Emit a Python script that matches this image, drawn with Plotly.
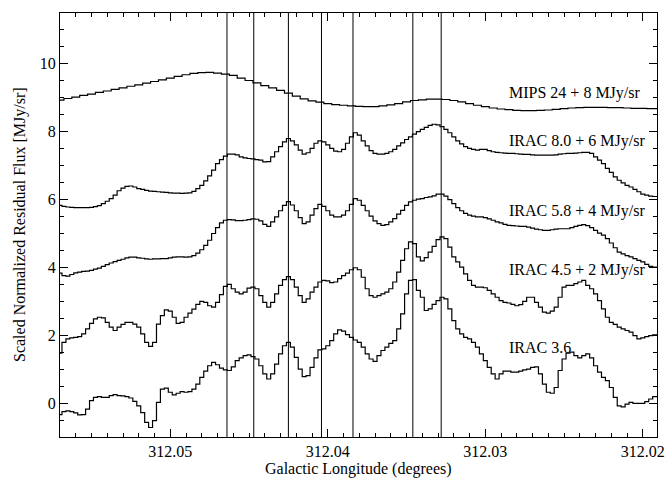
import plotly.graph_objects as go

# ---- data -------------------------------------------------------------
# MIPS 24 um profile sampled in 0.0005 deg bins (left = high longitude)
mips_lon = [round(312.0570 - i * 0.0005, 5) for i in range(77)]
mips24 = [8.93, 8.98, 9.02, 9.07, 9.11, 9.16, 9.20, 9.25, 9.29, 9.34,
          9.38, 9.43, 9.48, 9.53, 9.58, 9.63, 9.68, 9.72, 9.74, 9.75,
          9.73, 9.70, 9.66, 9.58, 9.51, 9.44, 9.36, 9.29, 9.22, 9.14,
          9.05, 8.97, 8.91, 8.87, 8.83, 8.80, 8.78, 8.76, 8.75, 8.74,
          8.74, 8.76, 8.79, 8.83, 8.88, 8.92, 8.94, 8.96, 8.96, 8.95,
          8.92, 8.88, 8.83, 8.78, 8.74, 8.70, 8.67, 8.65, 8.63, 8.62,
          8.62, 8.63, 8.64, 8.66, 8.68, 8.70, 8.71, 8.72, 8.72, 8.72,
          8.71, 8.71, 8.70, 8.69, 8.69, 8.68, 8.68]

# IRAC profiles sampled in 0.00025 deg bins
irac_lon = [round(312.0570 - i * 0.00025, 6) for i in range(153)]

irac80 = [5.83, 5.80, 5.78, 5.77, 5.76, 5.76, 5.76, 5.76, 5.77, 5.79,
          5.82, 5.88, 5.95, 6.03, 6.13, 6.26, 6.34, 6.39, 6.40, 6.37,
          6.32, 6.30, 6.27, 6.25, 6.24, 6.23, 6.22, 6.21, 6.20, 6.19,
          6.19, 6.18, 6.19, 6.20, 6.24, 6.32, 6.42, 6.55, 6.70, 6.87,
          7.06, 7.18, 7.28, 7.34, 7.34, 7.32, 7.26, 7.23, 7.21, 7.20,
          7.18, 7.16, 7.11, 7.12, 7.26, 7.41, 7.56, 7.70, 7.80, 7.73,
          7.61, 7.46, 7.34, 7.38, 7.51, 7.66, 7.73, 7.70, 7.61, 7.51,
          7.43, 7.41, 7.48, 7.66, 7.85, 7.97,
          7.90, 7.73, 7.58, 7.44, 7.36, 7.34, 7.34, 7.36, 7.41, 7.48,
          7.58, 7.67, 7.77, 7.85, 7.93, 8.00, 8.07, 8.13, 8.19, 8.22,
          8.20, 8.15, 8.07, 7.97, 7.85, 7.73, 7.64, 7.56, 7.51, 7.48,
          7.46, 7.48, 7.48, 7.44, 7.41, 7.39, 7.38, 7.37, 7.36, 7.36,
          7.35, 7.34, 7.33, 7.33, 7.32, 7.31, 7.31, 7.31, 7.31, 7.31,
          7.32, 7.34, 7.35, 7.36, 7.36, 7.37, 7.38, 7.39, 7.39, 7.36,
          7.26, 7.16, 7.06, 6.92, 6.80, 6.67, 6.57, 6.49, 6.42, 6.37,
          6.30, 6.23, 6.16, 6.13, 6.10, 6.09, 6.09]

irac58 = [3.83, 3.76, 3.74, 3.79, 3.84, 3.86, 3.88, 3.89, 3.91, 3.95,
          3.98, 4.03, 4.08, 4.13, 4.17, 4.21, 4.24, 4.28, 4.30, 4.30,
          4.28, 4.27, 4.25, 4.24, 4.25, 4.25, 4.26, 4.26, 4.28, 4.30,
          4.31, 4.31, 4.30, 4.31, 4.35, 4.42, 4.52, 4.65, 4.80, 5.00,
          5.17, 5.31, 5.39, 5.41, 5.40, 5.38, 5.38, 5.39, 5.41, 5.43,
          5.42, 5.37, 5.27, 5.21, 5.34, 5.49, 5.67, 5.83, 5.94, 5.84,
          5.67, 5.47, 5.29, 5.34, 5.54, 5.73, 5.86, 5.80, 5.67, 5.54,
          5.49, 5.49, 5.54, 5.67, 5.86, 6.03,
          5.98, 5.83, 5.67, 5.51, 5.37, 5.29, 5.24, 5.26, 5.34, 5.44,
          5.57, 5.68, 5.83, 5.93, 5.98, 6.01, 6.03, 6.06, 6.08, 6.11,
          6.16, 6.16, 6.10, 6.00, 5.88, 5.76, 5.67, 5.59, 5.54, 5.51,
          5.49, 5.49, 5.47, 5.43, 5.39, 5.34, 5.31, 5.27, 5.24, 5.23,
          5.22, 5.21, 5.21, 5.19, 5.16, 5.13, 5.11, 5.09, 5.09, 5.11,
          5.13, 5.14, 5.14, 5.14, 5.17, 5.21, 5.24, 5.26, 5.23, 5.17,
          5.09, 5.01, 4.95, 4.85, 4.72, 4.58, 4.45, 4.40, 4.35, 4.31,
          4.26, 4.21, 4.16, 4.09, 4.03, 4.01, 4.01]

irac45 = [1.47, 1.79, 1.89, 1.92, 1.94, 1.96, 2.04, 2.19, 2.35, 2.48,
          2.53, 2.51, 2.38, 2.24, 2.14, 2.24, 2.32, 2.38, 2.38, 2.33,
          2.24, 2.04, 1.79, 1.67, 1.79, 2.33, 2.58, 2.75, 2.71, 2.53,
          2.35, 2.38, 2.53, 2.65, 2.77, 2.91, 3.00, 2.97, 2.87, 2.83,
          2.97, 3.20, 3.44, 3.50, 3.37, 3.27, 3.22, 3.27, 3.39, 3.42,
          3.37, 3.17, 2.97, 2.83, 2.97, 3.22, 3.47, 3.64, 3.73, 3.64,
          3.42, 3.17, 2.97, 3.07, 3.27, 3.42, 3.57, 3.62, 3.60, 3.55,
          3.57, 3.67, 3.76, 3.83, 3.93, 3.99,
          3.93, 3.71, 3.37, 3.17, 3.12, 3.17, 3.22, 3.27, 3.37, 3.57,
          3.86, 4.21, 4.55, 4.75, 4.70, 4.31, 4.19, 4.29, 4.45, 4.62,
          4.82, 4.90, 4.85, 4.60, 4.31, 4.16, 4.01, 3.81, 3.62, 3.47,
          3.42, 3.42, 3.40, 3.32, 3.22, 3.12, 3.02, 2.97, 2.95, 2.91,
          2.87, 2.90, 3.00, 3.12, 3.12, 2.97, 2.83, 2.68, 2.65, 2.71,
          2.83, 3.12, 3.42, 3.47, 3.47, 3.52, 3.57, 3.62, 3.47, 3.37,
          3.22, 3.02, 2.78, 2.53, 2.38, 2.32, 2.24, 2.19, 2.14, 2.09,
          1.99, 1.89, 1.92, 1.96, 1.99, 2.01, 2.01]

irac36 = [-0.34, -0.25, -0.23, -0.25, -0.29, -0.35, -0.34, -0.18, 0.07, 0.17,
          0.19, 0.17, 0.17, 0.22, 0.25, 0.22, 0.21, 0.19, 0.15, 0.05,
          -0.08, -0.28, -0.57, -0.72, -0.52, 0.02, 0.41, 0.44, 0.32, 0.24,
          0.29, 0.34, 0.32, 0.34, 0.41, 0.56, 0.76, 0.94, 1.10, 1.20,
          1.13, 1.03, 0.98, 0.96, 1.07, 1.25, 1.33, 1.40, 1.42, 1.37,
          1.30, 1.10, 0.86, 0.71, 0.86, 1.15, 1.45, 1.69, 1.79, 1.65,
          1.35, 1.00, 0.78, 0.81, 1.05, 1.33, 1.57, 1.60, 1.69, 1.84,
          2.04, 2.16, 2.12, 2.02, 1.94, 1.86,
          1.79, 1.65, 1.45, 1.30, 1.23, 1.40, 1.55, 1.65, 1.76, 1.84,
          2.19, 2.63, 3.22, 3.62, 3.64, 3.32, 3.12, 2.73, 2.78, 2.91,
          3.02, 3.12, 3.07, 2.78, 2.43, 2.19, 2.04, 1.94, 1.89, 1.79,
          1.65, 1.45, 1.25, 1.05, 0.86, 0.71, 0.86, 0.94, 0.94, 0.91,
          0.91, 0.94, 0.98, 1.00, 1.05, 1.07, 0.86, 0.56, 0.32, 0.29,
          0.46, 0.96, 1.30, 1.47, 1.50, 1.40, 1.33, 1.40, 1.45, 1.33,
          1.10, 0.91, 0.76, 0.66, 0.46, 0.17, -0.08, -0.11, -0.03, 0.02,
          -0.01, -0.01, -0.01, 0.04, 0.12, 0.19, 0.19]

# vertical marker longitudes
vlines = [312.0464, 312.0447, 312.0425, 312.0404, 312.0384, 312.0346, 312.0328]

# curve labels
label_texts = ["MIPS 24 + 8 MJy/sr", "IRAC 8.0 + 6 MJy/sr", "IRAC 5.8 + 4 MJy/sr",
               "IRAC 4.5 + 2 MJy/sr", "IRAC 3.6"]
label_lon = 312.0286
label_y = [9.15, 7.73, 5.67, 3.93, 1.63]

x_title = "Galactic Longitude (degrees)"
y_title = "Scaled Normalized Residual Flux [MJy/sr]"

# ---- figure -----------------------------------------------------------
FONT = "Times New Roman, Liberation Serif, DejaVu Serif, serif"
FS = 16

fig = go.Figure()
fig.add_trace(go.Scatter(x=mips_lon, y=mips24, mode="lines", line_shape="hvh",
                         line=dict(color="black", width=1.2),
                         showlegend=False, hoverinfo="skip"))
for s in [irac80, irac58, irac45, irac36]:
    fig.add_trace(go.Scatter(x=irac_lon, y=s, mode="lines", line_shape="hvh",
                             line=dict(color="black", width=1.2),
                             showlegend=False, hoverinfo="skip"))

for v in vlines:
    fig.add_shape(type="line", x0=v, x1=v, y0=0, y1=1, xref="x", yref="paper",
                  line=dict(color="black", width=1))

for t, y in zip(label_texts, label_y):
    fig.add_annotation(x=label_lon, y=y, text=t, showarrow=False, xanchor="left",
                       yanchor="middle", font=dict(family=FONT, size=FS, color="black"))

# axis titles as annotations for precise placement
fig.add_annotation(x=0.5, y=-0.076, xref="paper", yref="paper", text=x_title,
                   showarrow=False, xanchor="center", yanchor="middle",
                   font=dict(family=FONT, size=FS, color="black"))
fig.add_annotation(x=-0.067, y=0.5, xref="paper", yref="paper", text=y_title,
                   showarrow=False, xanchor="center", yanchor="middle", textangle=-90,
                   font=dict(family=FONT, size=FS, color="black"))

fig.update_layout(
    width=667, height=478,
    margin=dict(l=60, r=10, t=13, b=41),
    paper_bgcolor="white", plot_bgcolor="white",
    font=dict(family=FONT, size=FS, color="black"),
)
fig.update_xaxes(
    range=[312.0570, 312.0191], showgrid=False, zeroline=False, automargin=False,
    showline=True, linecolor="black", linewidth=1.2, mirror="allticks",
    ticks="inside", ticklen=8, tickcolor="black", tickwidth=1,
    dtick=0.01, tick0=312.0, tickformat=".2f",
    minor=dict(dtick=0.001, ticks="inside", ticklen=4, tickcolor="black", showgrid=False),
    tickfont=dict(family=FONT, size=FS),
)
fig.update_yaxes(
    range=[-1, 11.5], showgrid=False, zeroline=False, automargin=False,
    showline=True, linecolor="black", linewidth=1.2, mirror="allticks",
    ticks="inside", ticklen=8, tickcolor="black", tickwidth=1,
    dtick=2, tick0=0,
    minor=dict(dtick=0.5, ticks="inside", ticklen=4, tickcolor="black", showgrid=False),
    tickfont=dict(family=FONT, size=FS),
)

fig.write_html("out.html")
